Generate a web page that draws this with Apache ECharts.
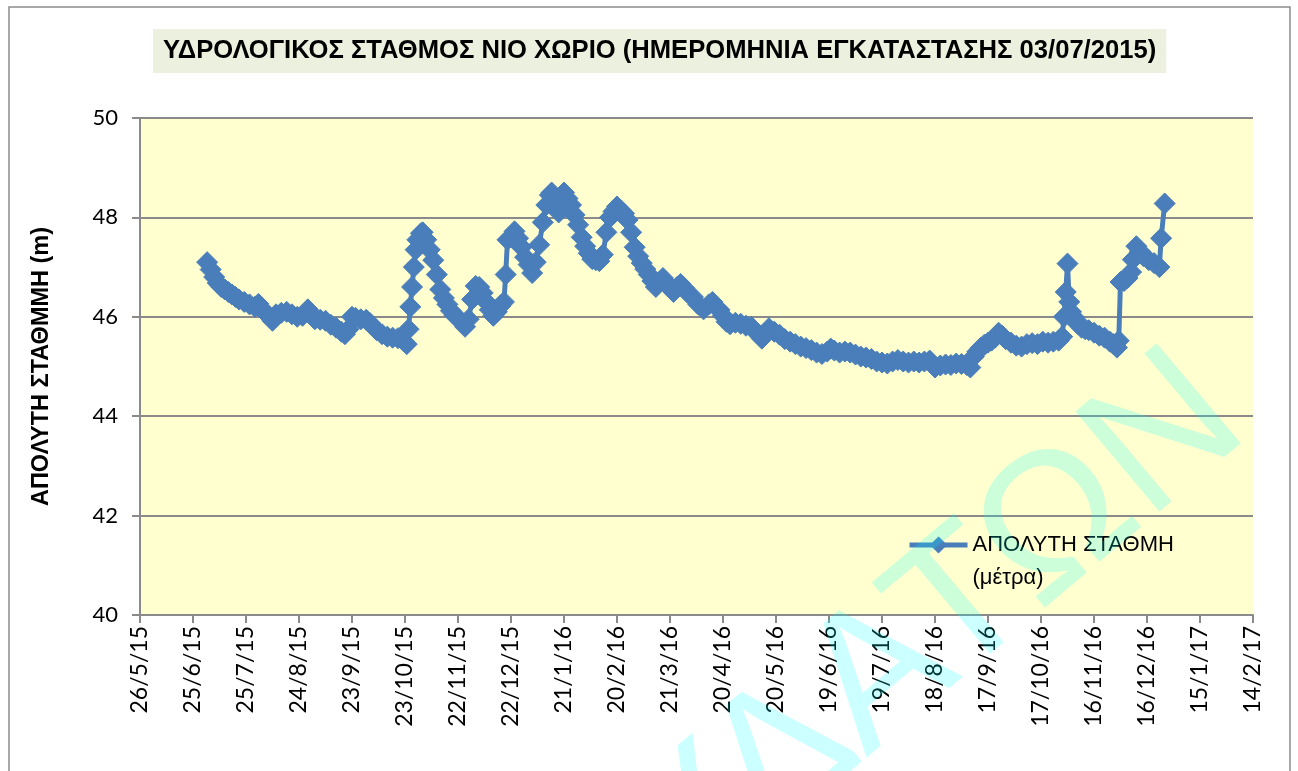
<!DOCTYPE html>
<html>
<head>
<meta charset="utf-8">
<script src="https://cdn.jsdelivr.net/npm/echarts@6/dist/echarts.min.js"></script>
<style>
  html, body { margin: 0; padding: 0; background: #ffffff; }
  #chart { width: 1298px; height: 771px; }
</style>
</head>
<body>
<div id="chart"></div>
<script>
// Hydrological station Nio Chorio - absolute water level (m)
const startDate = '2015-05-26';
const xTickLabels = ['26/5/15','25/6/15','25/7/15','24/8/15','23/9/15','23/10/15','22/11/15','22/12/15',
  '21/1/16','20/2/16','21/3/16','20/4/16','20/5/16','19/6/16','19/7/16','18/8/16','17/9/16','17/10/16',
  '16/11/16','16/12/16','15/1/17','14/2/17'];
const yTicks = [40, 42, 44, 46, 48, 50];

const dates = [
  '2015-07-03','2015-07-05','2015-07-07','2015-07-09','2015-07-11','2015-07-13','2015-07-15','2015-07-17',
  '2015-07-19','2015-07-21','2015-07-24','2015-07-27','2015-07-30','2015-08-01','2015-08-03','2015-08-05',
  '2015-08-07','2015-08-09','2015-08-11','2015-08-14','2015-08-17','2015-08-20','2015-08-23','2015-08-26',
  '2015-08-29','2015-08-31','2015-09-02','2015-09-05','2015-09-08','2015-09-11','2015-09-14','2015-09-17',
  '2015-09-19','2015-09-21','2015-09-23','2015-09-25','2015-09-28','2015-10-01','2015-10-03','2015-10-05',
  '2015-10-07','2015-10-10','2015-10-13','2015-10-16','2015-10-19','2015-10-22','2015-10-24','2015-10-25',
  '2015-10-26','2015-10-27','2015-10-28','2015-10-29','2015-10-30','2015-11-01','2015-11-02','2015-11-04',
  '2015-11-06','2015-11-08','2015-11-10','2015-11-12','2015-11-14','2015-11-16','2015-11-18','2015-11-20',
  '2015-11-22','2015-11-24','2015-11-26','2015-11-28','2015-11-30','2015-12-02','2015-12-04','2015-12-06',
  '2015-12-08','2015-12-10','2015-12-12','2015-12-14','2015-12-16','2015-12-18','2015-12-19','2015-12-20',
  '2015-12-22','2015-12-24','2015-12-26','2015-12-28','2015-12-30','2016-01-01','2016-01-03','2016-01-05',
  '2016-01-07','2016-01-09','2016-01-11','2016-01-13','2016-01-14','2016-01-16','2016-01-18','2016-01-20',
  '2016-01-21','2016-01-23','2016-01-25','2016-01-27','2016-01-29','2016-01-31','2016-02-02','2016-02-04',
  '2016-02-06','2016-02-08','2016-02-10','2016-02-12','2016-02-14','2016-02-16','2016-02-18','2016-02-20',
  '2016-02-22','2016-02-24','2016-02-26','2016-02-28','2016-03-01','2016-03-03','2016-03-05','2016-03-07',
  '2016-03-09','2016-03-11','2016-03-13','2016-03-15','2016-03-17','2016-03-19','2016-03-21','2016-03-23',
  '2016-03-25','2016-03-27','2016-03-29','2016-03-31','2016-04-03','2016-04-06','2016-04-09','2016-04-12',
  '2016-04-14','2016-04-16','2016-04-18','2016-04-20','2016-04-22','2016-04-24','2016-04-27','2016-04-30',
  '2016-05-03','2016-05-06','2016-05-09','2016-05-12','2016-05-14','2016-05-16','2016-05-19','2016-05-22',
  '2016-05-25','2016-05-28','2016-05-31','2016-06-03','2016-06-06','2016-06-09','2016-06-12','2016-06-15',
  '2016-06-18','2016-06-20','2016-06-22','2016-06-25','2016-06-28','2016-07-01','2016-07-04','2016-07-07',
  '2016-07-10','2016-07-13','2016-07-16','2016-07-19','2016-07-22','2016-07-25','2016-07-28','2016-07-31',
  '2016-08-03','2016-08-06','2016-08-09','2016-08-12','2016-08-15','2016-08-18','2016-08-21','2016-08-24',
  '2016-08-27','2016-08-30','2016-09-02','2016-09-05','2016-09-07','2016-09-09','2016-09-11','2016-09-13',
  '2016-09-15','2016-09-17','2016-09-19','2016-09-21','2016-09-23','2016-09-25','2016-09-27','2016-09-30',
  '2016-10-03','2016-10-06','2016-10-09','2016-10-12','2016-10-15','2016-10-18','2016-10-21','2016-10-24',
  '2016-10-27','2016-10-29','2016-10-30','2016-10-31','2016-11-01','2016-11-02','2016-11-03','2016-11-05',
  '2016-11-07','2016-11-09','2016-11-11','2016-11-13','2016-11-16','2016-11-19','2016-11-22','2016-11-25',
  '2016-11-27','2016-11-29','2016-11-30','2016-12-01','2016-12-03','2016-12-05','2016-12-07','2016-12-08',
  '2016-12-10','2016-12-12','2016-12-14','2016-12-17','2016-12-20','2016-12-23','2016-12-24','2016-12-26'
];

const levels = [
  47.10, 46.95, 46.80, 46.68, 46.60, 46.55, 46.50, 46.45,
  46.40, 46.35, 46.30, 46.25, 46.20, 46.26, 46.15, 46.08,
  46.02, 45.92, 46.05, 46.08, 46.10, 46.05, 46.00, 46.02,
  46.15, 46.05, 45.95, 45.94, 45.92, 45.84, 45.78, 45.70,
  45.65, 45.75, 46.00, 45.98, 45.95, 45.94, 45.88, 45.80,
  45.73, 45.65, 45.60, 45.58, 45.57, 45.52, 45.45, 45.75,
  46.20, 46.60, 47.00, 47.35, 47.55, 47.68, 47.70, 47.55,
  47.35, 47.14, 46.85, 46.55, 46.38, 46.25, 46.12, 46.03,
  45.97, 45.90, 45.80, 45.95, 46.35, 46.62, 46.60, 46.48,
  46.30, 46.14, 46.02, 46.10, 46.22, 46.30, 46.85, 47.55,
  47.60, 47.72, 47.58, 47.40, 47.20, 47.05, 46.88, 47.10,
  47.45, 47.90, 48.25, 48.45, 48.50, 48.25, 48.10, 48.40,
  48.50, 48.38, 48.25, 48.05, 47.85, 47.60, 47.42, 47.28,
  47.16, 47.14, 47.12, 47.25, 47.70, 48.00, 48.12, 48.22,
  48.15, 48.08, 47.95, 47.70, 47.40, 47.22, 47.08, 46.96,
  46.85, 46.72, 46.60, 46.70, 46.78, 46.68, 46.58, 46.50,
  46.60, 46.66, 46.58, 46.48, 46.40, 46.25, 46.15, 46.25,
  46.30, 46.20, 46.14, 46.02, 45.90, 45.85, 45.88, 45.86,
  45.82, 45.80, 45.68, 45.56, 45.65, 45.77, 45.70, 45.64,
  45.55, 45.50, 45.45, 45.40, 45.37, 45.33, 45.28, 45.25,
  45.30, 45.36, 45.32, 45.28, 45.30, 45.28, 45.24, 45.20,
  45.18, 45.15, 45.10, 45.08, 45.06, 45.10, 45.13, 45.10,
  45.08, 45.10, 45.08, 45.10, 45.12, 44.98, 45.02, 45.04,
  45.03, 45.06, 45.05, 45.03, 44.98, 45.20, 45.30, 45.38,
  45.44, 45.48, 45.52, 45.58, 45.68, 45.62, 45.55, 45.48,
  45.42, 45.40, 45.45, 45.47, 45.45, 45.50, 45.48, 45.50,
  45.52, 45.60, 46.00, 46.50, 47.07, 46.30, 46.10, 45.98,
  45.85, 45.78, 45.75, 45.73, 45.68, 45.62, 45.58, 45.50,
  45.45, 45.38, 45.52, 46.70, 46.72, 46.78, 46.90, 47.15,
  47.42, 47.32, 47.22, 47.14, 47.08, 47.00, 47.58, 48.28
];

const DAY = 86400000;
const t0 = Date.parse(startDate);
const seriesData = dates.map((d, i) => [(Date.parse(d) - t0) / DAY, levels[i]]);

const blue = '#4a7ebb';
const gridGray = '#8a8a8a';
const legendLineHeight = 33;

const chart = echarts.init(document.getElementById('chart'), null, { renderer: 'canvas' });
chart.setOption({
  animation: false,
  backgroundColor: '#ffffff',
  title: {
    text: 'ΥΔΡΟΛΟΓΙΚΟΣ ΣΤΑΘΜΟΣ ΝΙΟ ΧΩΡΙΟ (ΗΜΕΡΟΜΗΝΙΑ ΕΓΚΑΤΑΣΤΑΣΗΣ 03/07/2015)',
    left: 153,
    top: 29,
    padding: [9, 10, 9, 10],
    backgroundColor: '#ebf1de',
    textStyle: {
      fontFamily: '"Liberation Sans Narrow", "Liberation Sans", sans-serif',
      fontWeight: 'bold',
      fontSize: 25.6,
      color: '#000000'
    }
  },
  legend: {
    left: 902,
    // icon centred on the first text line (the empty first line balances the block)
    top: 545 - legendLineHeight * 1.5 - 5,
    itemWidth: 58,
    itemHeight: 18,
    itemGap: 0,
    formatter: () => '\nΑΠΟΛΥΤΗ ΣΤΑΘΜΗ\n(μέτρα)',
    lineStyle: { width: 5 },
    textStyle: {
      fontFamily: '"Liberation Sans", sans-serif',
      fontSize: 22,
      color: '#000000',
      lineHeight: legendLineHeight
    }
  },
  grid: {
    left: 140,
    top: 118,
    right: 45,
    bottom: 156,
    show: true,
    backgroundColor: '#ffffd0',
    borderWidth: 0
  },
  xAxis: {
    type: 'value',
    min: 0,
    max: (xTickLabels.length - 1) * 30,
    interval: 30,
    axisLine: { show: true, onZero: false, lineStyle: { color: gridGray, width: 2 } },
    axisTick: { show: true, inside: false, length: 8, lineStyle: { color: gridGray, width: 2 } },
    splitLine: { show: false },
    axisLabel: {
      rotate: 90,
      margin: 11,
      fontFamily: 'Lato, "Liberation Sans", sans-serif',
      fontSize: 23,
      color: '#000000',
      formatter: (v) => xTickLabels[Math.round(v / 30)] || ''
    }
  },
  yAxis: {
    type: 'value',
    min: yTicks[0],
    max: yTicks[yTicks.length - 1],
    interval: yTicks[1] - yTicks[0],
    name: 'ΑΠΟΛΥΤΗ ΣΤΑΘΜΜΗ (m)',
    nameLocation: 'middle',
    nameRotate: 90,
    nameGap: 86,
    nameTextStyle: {
      fontFamily: '"Liberation Sans Narrow", "Liberation Sans", sans-serif',
      fontWeight: 'bold',
      fontSize: 23.5,
      color: '#000000'
    },
    axisLine: { show: true, lineStyle: { color: gridGray, width: 2 } },
    axisTick: { show: true, inside: false, length: 8, lineStyle: { color: gridGray, width: 2 } },
    splitLine: { show: true, lineStyle: { color: gridGray, width: 2 } },
    axisLabel: {
      margin: 22,
      fontFamily: 'Lato, "Liberation Sans", sans-serif',
      fontSize: 22,
      color: '#000000'
    }
  },
  series: [{
    name: 'ΑΠΟΛΥΤΗ ΣΤΑΘΜΗ (μέτρα)',
    type: 'line',
    data: seriesData,
    symbol: 'diamond',
    symbolSize: 21,
    showAllSymbol: true,
    lineStyle: { color: blue, width: 5 },
    itemStyle: { color: blue, borderColor: blue, borderWidth: 1 },
    emphasis: { disabled: true },
    z: 3
  }],
  graphic: [
    {
      type: 'rect',
      z: -10,
      silent: true,
      shape: { x: 9, y: 7, width: 1281, height: 820 },
      style: { fill: 'none', stroke: '#8c8c8c', lineWidth: 1.5 }
    },
    {
      type: 'text',
      z: 100,
      silent: true,
      x: 1280,
      y: 466,
      rotation: 40 * Math.PI / 180,
      style: {
        text: 'ΥΔΑΤΩΝ',
        font: '190px "Liberation Sans", sans-serif',
        fill: 'rgba(0, 255, 255, 0.2)',
        align: 'right',
        verticalAlign: 'bottom'
      }
    }
  ]
});
</script>
</body>
</html>
